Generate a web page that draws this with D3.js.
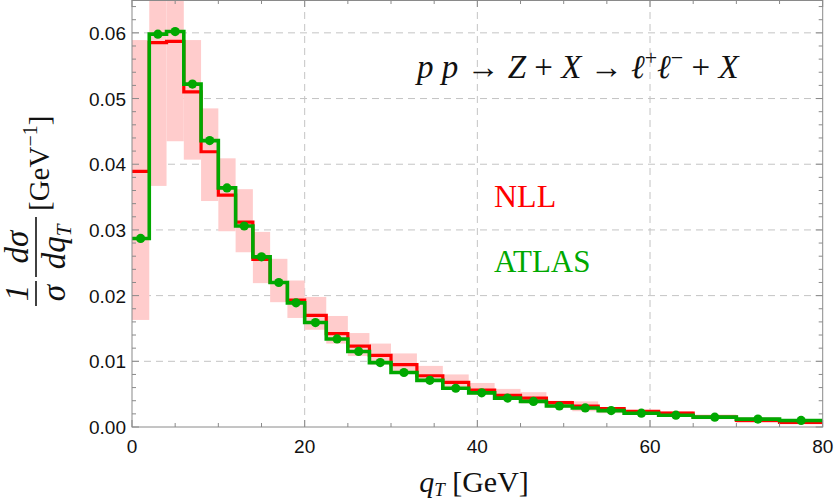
<!DOCTYPE html>
<html><head><meta charset="utf-8">
<script src="https://cdn.jsdelivr.net/npm/d3@7"></script>
<style>body{margin:0;background:#fff}svg{display:block}</style>
</head><body><svg id="c" width="834" height="503"></svg>
<script>
const edges = [0,2,4,6,8,10,12,14,16,18,20,22.5,25,27.5,30,33,36,39,42,45,48,51,54,57,61,65,70,75,80];
const nll = [0.0389,0.0585,0.0587,0.0510,0.0419,0.0353,0.0312,0.0255,0.0220,0.0193,0.0170,0.0142,0.0123,0.0109,0.0095,0.0078,0.0068,0.0056,0.0048,0.0044,0.0037,0.0032,0.0028,0.0024,0.0021,0.0015,0.0010,0.0007];
const atlas = [0.0287,0.0598,0.0602,0.0522,0.0436,0.0364,0.0306,0.0259,0.0220,0.0189,0.0159,0.0134,0.0115,0.0098,0.0083,0.0071,0.0059,0.0052,0.0044,0.0039,0.0032,0.0029,0.0025,0.0021,0.0018,0.0015,0.0012,0.0010];
const bandLow = [0.0163,0.0367,0.0435,0.0407,0.0344,0.0298,0.0266,0.0219,0.0190,0.0166,0.0148,0.0127,0.0108,0.0095,0.0085,0.0072,0.0059,0.0049,0.0042,0.0036,0.0029,0.0024,0.0021,0.0019,0.0016,0.0012,0.0006,0.0004];
const bandHigh = [0.0589,0.0700,0.0690,0.0589,0.0485,0.0409,0.0362,0.0297,0.0256,0.0223,0.0198,0.0169,0.0143,0.0127,0.0112,0.0093,0.0080,0.0067,0.0058,0.0053,0.0040,0.0039,0.0030,0.0026,0.0024,0.0019,0.0015,0.0011];
const xTicks = [0,20,40,60,80];
const yTicks = [0,0.01,0.02,0.03,0.04,0.05,0.06];
const xMinor = d3.range(0,81,5);
const yMinor = d3.range(0,0.0651,0.002);

const svg = d3.select('#c');
const L=132, R=822.7, T=0, B=427;
const x = d3.scaleLinear().domain([0,80]).range([L,R]);
const y = d3.scaleLinear().domain([0,0.065]).range([B,T]);
const sans = "'Liberation Sans', Arial, sans-serif";
const serif = "'Liberation Serif', 'Times New Roman', serif";
const green = '#00a800', red = '#ff0000';

svg.append('defs').append('clipPath').attr('id','clip').append('rect')
  .attr('x',L).attr('y',T).attr('width',R-L).attr('height',B-T);

// grid
const grid = svg.append('g').attr('stroke','#c4c4c4').attr('stroke-width',1).attr('stroke-dasharray','7,5');
grid.selectAll('.gx').data(xTicks.filter(d=>d>0&&d<80)).join('line')
  .attr('x1',d=>x(d)).attr('x2',d=>x(d)).attr('y1',T).attr('y2',B);
grid.selectAll('.gy').data(yTicks.filter(d=>d>0)).join('line')
  .attr('x1',L).attr('x2',R).attr('y1',d=>y(d)).attr('y2',d=>y(d));

const plot = svg.append('g').attr('clip-path','url(#clip)');
const bins = nll.map((v,i)=>({x0:edges[i],x1:edges[i+1],lo:bandLow[i],hi:bandHigh[i],n:v,a:atlas[i]}));
plot.selectAll('rect.band').data(bins).join('rect').attr('class','band')
  .attr('x',d=>x(d.x0)).attr('width',d=>x(d.x1)-x(d.x0))
  .attr('y',d=>y(d.hi)).attr('height',d=>y(d.lo)-y(d.hi))
  .attr('fill','#ffcccc');

const stepPts = vals => vals.map((v,i)=>[edges[i],v]).concat([[edges[edges.length-1],vals[vals.length-1]]]);
const line = d3.line().x(d=>x(d[0])).y(d=>y(d[1])).curve(d3.curveStepAfter);
plot.append('path').attr('d',line(stepPts(nll))).attr('fill','none').attr('stroke',red).attr('stroke-width',3.2);
plot.append('path').attr('d',line(stepPts(atlas))).attr('fill','none').attr('stroke',green).attr('stroke-width',3.6);
plot.selectAll('circle').data(bins).join('circle')
  .attr('cx',d=>x((d.x0+d.x1)/2)).attr('cy',d=>y(d.a)).attr('r',4.6).attr('fill',green);

// frame
const ax = svg.append('g').attr('stroke','#8a8a8a').attr('stroke-width',1).attr('fill','none');
ax.append('rect').attr('x',L).attr('y',T+0.5).attr('width',R-L).attr('height',B-T-0.5);
xMinor.forEach(v=>{
  const len = xTicks.includes(v)?7:4;
  ax.append('line').attr('x1',x(v)).attr('x2',x(v)).attr('y1',B).attr('y2',B-len);
  ax.append('line').attr('x1',x(v)).attr('x2',x(v)).attr('y1',T).attr('y2',T+len);
});
yMinor.forEach(v=>{
  const major = yTicks.some(t=>Math.abs(t-v)<1e-9);
  const len = major?7:4;
  ax.append('line').attr('x1',L).attr('x2',L+len).attr('y1',y(v)).attr('y2',y(v));
  ax.append('line').attr('x1',R).attr('x2',R-len).attr('y1',y(v)).attr('y2',y(v));
});

svg.selectAll('text.xt').data(xTicks).join('text').attr('class','xt')
  .attr('x',d=>x(d)).attr('y',453).attr('text-anchor','middle')
  .attr('font-family',sans).attr('font-size',19).attr('fill','#111').text(d=>d);
svg.selectAll('text.yt').data(yTicks).join('text').attr('class','yt')
  .attr('x',L-6).attr('y',d=>y(d)+7).attr('text-anchor','end')
  .attr('font-family',sans).attr('font-size',19).attr('fill','#111').text(d=>d.toFixed(2));

// x label
const xl = svg.append('text').attr('x',474).attr('y',492).attr('text-anchor','middle')
  .attr('font-family',serif).attr('font-size',30).attr('fill','#111');
xl.append('tspan').attr('font-style','italic').text('q');
xl.append('tspan').attr('font-style','italic').attr('font-size',19).attr('dy',4).text('T');
xl.append('tspan').attr('dy',-4).text(' [GeV]');

// y label
const yl = svg.append('g').attr('transform','translate(36,215) rotate(-90)')
  .attr('font-family',serif).attr('fill','#111');
yl.append('text').attr('x',-78).attr('y',-8).attr('text-anchor','middle').attr('font-size',33).attr('font-style','italic').text('1');
yl.append('text').attr('x',-78).attr('y',29).attr('text-anchor','middle').attr('font-size',33).attr('font-style','italic').text('σ');
yl.append('line').attr('x1',-91).attr('x2',-66).attr('y1',0).attr('y2',0).attr('stroke','#111').attr('stroke-width',1.6);
yl.append('text').attr('x',-32).attr('y',-8).attr('text-anchor','middle').attr('font-size',33).attr('font-style','italic').text('dσ');
const dq = yl.append('text').attr('x',-32).attr('y',29).attr('text-anchor','middle').attr('font-size',33).attr('font-style','italic');
dq.append('tspan').text('dq');
dq.append('tspan').attr('font-size',21).attr('dy',6).text('T');
yl.append('line').attr('x1',-62).attr('x2',-2).attr('y1',0).attr('y2',0).attr('stroke','#111').attr('stroke-width',1.6);
const gev = yl.append('text').attr('x',4).attr('y',13).attr('font-size',29);
gev.append('tspan').text('[GeV');
gev.append('tspan').attr('font-size',20).attr('dy',-12).text('−1');
gev.append('tspan').attr('dy',12).text(']');

// annotation
const an = svg.append('text').attr('x',417).attr('y',78).attr('font-family',serif).attr('font-size',33).attr('fill','#111');
const parts = [['p',1],[' ',0],['p',1],[' → ',0],['Z',1],[' + ',0],['X',1],[' → ',0],['ℓ',1]];
parts.forEach(p=>an.append('tspan').attr('font-style',p[1]?'italic':'normal').text(p[0]));
an.append('tspan').attr('font-size',22).attr('dy',-13).text('+');
an.append('tspan').attr('dy',13).attr('font-style','italic').text('ℓ');
an.append('tspan').attr('font-size',22).attr('dy',-13).text('−');
an.append('tspan').attr('dy',13).text(' + ');
an.append('tspan').attr('font-style','italic').text('X');

svg.append('text').attr('x',494).attr('y',207).attr('font-family',serif).attr('font-size',32).attr('fill',red).text('NLL');
svg.append('text').attr('x',494).attr('y',272).attr('font-family',serif).attr('font-size',31).attr('fill',green).text('ATLAS');
</script></body></html>
